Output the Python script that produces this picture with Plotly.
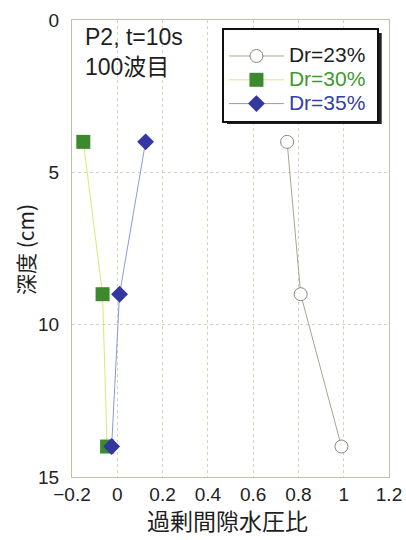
import plotly.graph_objects as go

# Depth of each pore-pressure gauge (cm)
depth = [4, 9, 14]

# Excess pore water pressure ratio at each depth, by relative density
ratio_dr23 = [0.75, 0.81, 0.99]
ratio_dr30 = [-0.15, -0.065, -0.045]
ratio_dr35 = [0.125, 0.01, -0.025]

x_ticks = [-0.2, 0, 0.2, 0.4, 0.6, 0.8, 1.0, 1.2]
x_tick_labels = ["−0.2", "0", "0.2", "0.4", "0.6", "0.8", "1", "1.2"]
y_ticks = [0, 5, 10, 15]

LATIN = "Liberation Sans, Noto Sans CJK JP, sans-serif"
JP = "Noto Sans CJK JP, sans-serif"


def legend_label(text, color):
    return f"<span style='font-size:21px;color:{color}'>{text}&nbsp;</span>"


fig = go.Figure()

fig.add_trace(go.Scatter(
    x=ratio_dr23, y=depth, mode="lines+markers",
    name=legend_label("Dr=23%", "#1e1e1e"),
    line=dict(color="#a8a48c", width=1),
    marker=dict(symbol="circle", size=13, color="white",
                line=dict(color="#8c8878", width=1)),
))
fig.add_trace(go.Scatter(
    x=ratio_dr30, y=depth, mode="lines+markers",
    name=legend_label("Dr=30%", "#3e9a2c"),
    line=dict(color="#dde870", width=1),
    marker=dict(symbol="square", size=14, color="#3d8a2e",
                line=dict(color="#3d8a2e", width=0)),
))
fig.add_trace(go.Scatter(
    x=ratio_dr35, y=depth, mode="lines+markers",
    name=legend_label("Dr=35%", "#3440a6"),
    line=dict(color="#8a9ad8", width=1),
    marker=dict(symbol="diamond", size=13, color="#3238a0",
                line=dict(color="#3238a0", width=0)),
))

axis_common = dict(
    showline=True, mirror=True, linecolor="#c4c0a8", linewidth=1,
    showgrid=True, gridcolor="#d8d2b8", griddash="dot", gridwidth=1,
    zeroline=False, ticks="", automargin=False,
    tickfont=dict(family=LATIN, size=19, color="#222"),
)

fig.update_xaxes(range=[-0.2, 1.2], tickvals=x_ticks, ticktext=x_tick_labels,
                 **axis_common)
fig.update_yaxes(range=[15, 0], tickvals=y_ticks, ticklabelstandoff=8,
                 **axis_common)

# Axis titles
fig.add_annotation(
    xref="paper", yref="paper", x=0.492, y=-0.1362,
    xanchor="center", yanchor="bottom", showarrow=False,
    text="過剰間隙水圧比", font=dict(family=JP, size=23, color="#1e1e1e"),
)
fig.add_annotation(
    xref="paper", yref="paper", x=-0.148, y=0.497,
    xanchor="center", yanchor="middle", showarrow=False, textangle=-90,
    text="深度 (cm)", font=dict(family=JP, size=21, color="#1e1e1e"),
)

# Case label in the upper-left corner
fig.add_annotation(
    xref="paper", yref="paper", x=0.035, y=0.995, xanchor="left", yanchor="top",
    text="P2, t=10s<br>100波目", showarrow=False, align="left",
    font=dict(family=LATIN, size=23, color="#1e1e1e"),
)

# Drop shadow behind the legend box
fig.add_shape(
    type="rect", xref="paper", yref="paper", layer="above",
    x0=0.489, x1=0.977, y0=0.7724, y1=0.9716,
    fillcolor="#222", line=dict(width=0),
)

fig.update_layout(
    width=406, height=540,
    margin=dict(l=72, r=17, t=20, b=63),
    plot_bgcolor="white", paper_bgcolor="white",
    legend=dict(
        x=0.473, y=0.9825, xanchor="left", yanchor="top",
        bgcolor="white", bordercolor="#111", borderwidth=2,
        font=dict(family=LATIN, size=16, color="#222"),
        title=dict(text="&nbsp;", font=dict(size=7)),
        itemwidth=55, tracegroupgap=0,
    ),
    showlegend=True,
)

fig.write_html("out.html")
